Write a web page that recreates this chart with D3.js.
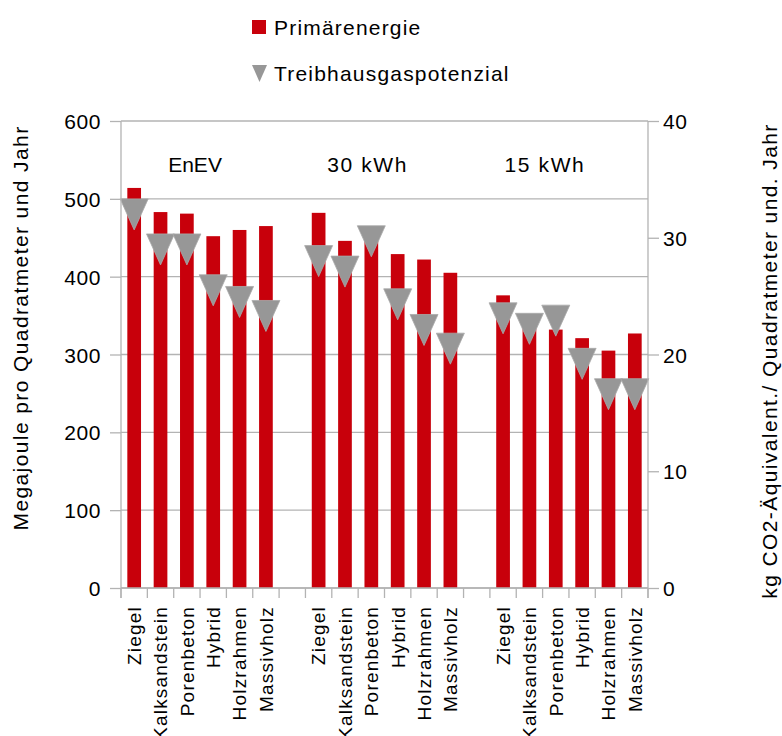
<!DOCTYPE html>
<html>
<head>
<meta charset="utf-8">
<script src="https://cdn.jsdelivr.net/npm/d3@7"></script>
<style>
  html, body { margin: 0; padding: 0; background: #fff; }
  svg { display: block; font-family: "Liberation Sans", Arial, sans-serif; }
</style>
</head>
<body>
<svg id="chart" width="782" height="736"></svg>
<script>
// Building scenarios and wall constructions
const groups = ["EnEV", "30 kWh", "15 kWh"];
const materials = ["Ziegel", "Kalksandstein", "Porenbeton", "Hybrid", "Holzrahmen", "Massivholz"];

// Primärenergie (MJ per m² and year), one array per scenario
const primEnEV = [514, 483, 481, 452, 460, 465];
const prim30   = [482, 446, 455, 429, 422, 405];
const prim15   = [376, 341, 332, 321, 305, 327];

// Treibhausgaspotenzial (kg CO2-eq per m² and year)
const ghgEnEV = [32.0, 29.0, 29.0, 25.5, 24.5, 23.3];
const ghg30   = [28.0, 27.1, 29.7, 24.3, 22.1, 20.5];
const ghg15   = [23.1, 22.2, 22.9, 19.2, 16.6, 16.6];

// Axis ticks
const leftTicks = [0, 100, 200, 300, 400, 500, 600];
const rightTicks = [0, 10, 20, 30, 40];

const primByGroup = [primEnEV, prim30, prim15];
const ghgByGroup = [ghgEnEV, ghg30, ghg15];

// Flatten into slots; an empty slot separates the scenarios
const slots = [];
const rows = [];
groups.forEach((g, gi) => {
  if (gi > 0) slots.push("gap" + gi);
  materials.forEach((m, mi) => {
    const key = g + "|" + m;
    slots.push(key);
    rows.push({ key, group: g, material: m, prim: primByGroup[gi][mi], ghg: ghgByGroup[gi][mi] });
  });
});

const svg = d3.select("#chart");
const plot = { left: 121, right: 648, top: 121, bottom: 588 };

const x = d3.scaleBand().domain(slots).range([plot.left, plot.right])
  .paddingInner(0.48).paddingOuter(0.24);
const yL = d3.scaleLinear().domain([0, 600]).range([plot.bottom, plot.top]);
const yR = d3.scaleLinear().domain([0, 40]).range([plot.bottom, plot.top]);

const gridColor = "#b3b3b3";
const red = "#c8000b";
const grey = "#979797";

// Horizontal gridlines
svg.append("g").selectAll("line").data(leftTicks).join("line")
  .attr("x1", plot.left).attr("x2", plot.right)
  .attr("y1", d => yL(d)).attr("y2", d => yL(d))
  .attr("stroke", gridColor).attr("stroke-width", 1.3);

// Bars: Primärenergie
svg.append("g").selectAll("rect").data(rows).join("rect")
  .attr("x", d => x(d.key))
  .attr("width", x.bandwidth())
  .attr("y", d => yL(d.prim))
  .attr("height", d => yL(0) - yL(d.prim))
  .attr("fill", red);

// Down triangles: Treibhausgaspotenzial
const triW = 28, triH = 31;
const triPath = `M${-triW / 2},${-triH / 2}L${triW / 2},${-triH / 2}L0,${triH / 2}Z`;
svg.append("g").selectAll("path").data(rows).join("path")
  .attr("d", triPath)
  .attr("transform", d => `translate(${x(d.key) + x.bandwidth() / 2},${yR(d.ghg)})`)
  .attr("fill", grey)
  .attr("stroke", "#a9a9a9").attr("stroke-width", 0.8);

// Left axis
const axL = svg.append("g").attr("transform", `translate(${plot.left},0)`)
  .call(d3.axisLeft(yL).tickValues(leftTicks).tickSize(11).tickPadding(9).tickSizeOuter(0));
// Right axis
const axR = svg.append("g").attr("transform", `translate(${plot.right},0)`)
  .call(d3.axisRight(yR).tickValues(rightTicks).tickSize(11).tickPadding(4).tickSizeOuter(0));

[axL, axR].forEach(ax => {
  ax.select(".domain").attr("stroke", gridColor).attr("stroke-width", 1.3)
    .attr("d", `M0,${plot.top}V${plot.bottom + 10}`);
  ax.selectAll(".tick line").attr("stroke", gridColor).attr("stroke-width", 1.3);
  ax.selectAll(".tick text").attr("fill", "#000")
    .style("font-size", "21px").style("letter-spacing", "0.6px")
    .attr("dy", "0.36em");
});

// Category axis: baseline and boundary ticks
const step = x.step();
const boundaries = slots.map(s => x(s) - step * x.paddingInner() / 2).concat([plot.right]);
svg.append("line")
  .attr("x1", plot.left).attr("x2", plot.right)
  .attr("y1", plot.bottom).attr("y2", plot.bottom)
  .attr("stroke", gridColor).attr("stroke-width", 1.3);
svg.append("g").selectAll("line").data(boundaries).join("line")
  .attr("x1", d => d).attr("x2", d => d)
  .attr("y1", plot.bottom).attr("y2", plot.bottom + 10)
  .attr("stroke", gridColor).attr("stroke-width", 1.3);

// Category labels, rotated
svg.append("g").selectAll("text").data(rows).join("text")
  .attr("transform", d => `translate(${x(d.key) + x.bandwidth() / 2},${plot.bottom + 18}) rotate(-90)`)
  .attr("text-anchor", "end")
  .attr("dy", "0.36em")
  .style("font-size", "19px").style("letter-spacing", "1.2px")
  .attr("fill", "#000")
  .text(d => d.material);

// Scenario labels above each group
const groupLabelShift = [2.31, 1.86, 1.59];
svg.append("g").selectAll("text").data(groups).join("text")
  .attr("x", (g, i) => x(g + "|" + materials[0]) + x.bandwidth() / 2 + groupLabelShift[i] * step)
  .attr("y", 172)
  .attr("text-anchor", "middle")
  .style("font-size", "21px")
  .style("letter-spacing", (g, i) => i === 0 ? "0px" : "1.6px")
  .attr("fill", "#000")
  .text(d => d);

// Axis titles
svg.append("text")
  .attr("transform", `translate(27.5,328) rotate(-90)`)
  .attr("text-anchor", "middle")
  .style("font-size", "21px").style("letter-spacing", "1.4px")
  .attr("fill", "#000")
  .text("Megajoule pro Quadratmeter und Jahr");

svg.append("text")
  .attr("transform", `translate(777,361) rotate(-90)`)
  .attr("text-anchor", "middle")
  .style("font-size", "21px").style("letter-spacing", "1.4px")
  .attr("fill", "#000")
  .text("kg CO2-Äquivalent./ Quadratmeter und. Jahr");

// Legend
const legend = svg.append("g");
legend.append("rect").attr("x", 252).attr("y", 20).attr("width", 14).attr("height", 14).attr("fill", red);
legend.append("text").attr("x", 274).attr("y", 35)
  .style("font-size", "21px").style("letter-spacing", "1.2px").attr("fill", "#000")
  .text("Primärenergie");
legend.append("path").attr("d", "M252,65L267,65L259.5,82Z").attr("fill", grey);
legend.append("text").attr("x", 274).attr("y", 81)
  .style("font-size", "21px").style("letter-spacing", "1.2px").attr("fill", "#000")
  .text("Treibhausgaspotenzial");
</script>
</body>
</html>
